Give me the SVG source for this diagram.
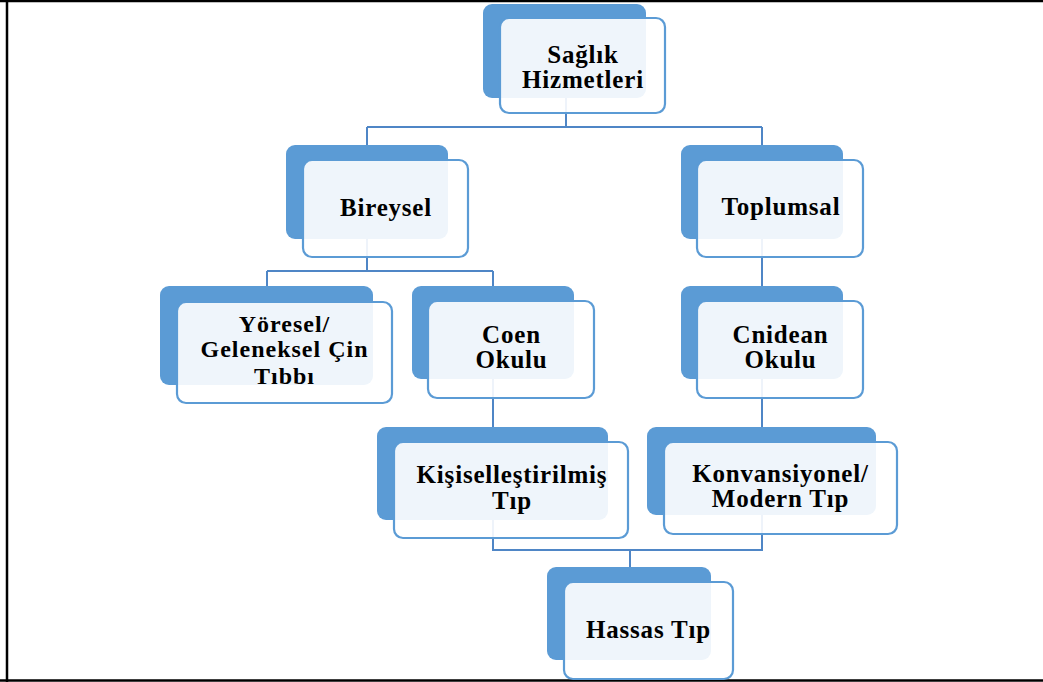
<svg xmlns="http://www.w3.org/2000/svg" width="1043" height="682" viewBox="0 0 1043 682">
<style>
.bg{fill:#ffffff}
.frame{stroke:#000;stroke-width:2.5;fill:none}
.dark{fill:#5B9BD5}
.light{fill:#ffffff;fill-opacity:0.9;stroke:#5B9BD5;stroke-width:2.2}
.conn{fill:none;stroke:#4F86C6;stroke-width:2}
text{font-family:"Liberation Serif","Times New Roman",serif;font-weight:bold;font-size:25px;letter-spacing:0.8px;fill:#000;text-anchor:middle}
.sm{font-size:24px;letter-spacing:1px}
</style>
<rect class="bg" x="0" y="0" width="1043" height="682"/>
<g id="frame">
<line class="frame" x1="0" y1="1" x2="1043" y2="1"/>
<line class="frame" x1="7" y1="0" x2="7" y2="682"/>
<line class="frame" x1="0" y1="680.5" x2="1043" y2="680.5"/>
</g>
<g id="connectors">
<path class="conn" d="M566,65 V127 M367,127 H762 M367,127 V208 M762,127 V208"/>
<path class="conn" d="M367,208 V271 M267,271 H493 M267,271 V350 M493,271 V350"/>
<path class="conn" d="M762,208 V350 M493,350 V490 M762,350 V490"/>
<path class="conn" d="M493,490 V550 H762 V490 M630,550 V630"/>
</g>
<g id="n-saglik">
<rect class="dark" x="483" y="4" width="163" height="94" rx="9"/>
<rect class="light" x="500" y="18" width="165" height="95" rx="9"/>
<text x="583" y="63">Sağlık</text>
<text x="583" y="88">Hizmetleri</text>
</g>
<g id="n-bireysel">
<rect class="dark" x="286" y="145" width="162" height="94" rx="9"/>
<rect class="light" x="303" y="160" width="165" height="97" rx="9"/>
<text x="386" y="216">Bireysel</text>
</g>
<g id="n-toplumsal">
<rect class="dark" x="681" y="145" width="162" height="94" rx="9"/>
<rect class="light" x="697" y="160" width="166" height="97" rx="9"/>
<text x="781" y="215">Toplumsal</text>
</g>
<g id="n-yoresel">
<rect class="dark" x="160" y="286" width="213" height="99" rx="9"/>
<rect class="light" x="177" y="302" width="215" height="101" rx="9"/>
<text class="sm" x="284.5" y="332">Yöresel/</text>
<text class="sm" x="284.5" y="357">Geleneksel Çin</text>
<text class="sm" x="284.5" y="384">Tıbbı</text>
</g>
<g id="n-coen">
<rect class="dark" x="412" y="286" width="162" height="93" rx="9"/>
<rect class="light" x="428" y="301" width="166" height="97" rx="9"/>
<text x="511.5" y="343">Coen</text>
<text x="511.5" y="368">Okulu</text>
</g>
<g id="n-cnidean">
<rect class="dark" x="681" y="286" width="162" height="93" rx="9"/>
<rect class="light" x="697" y="301" width="166" height="97" rx="9"/>
<text x="780.5" y="343">Cnidean</text>
<text x="780.5" y="368">Okulu</text>
</g>
<g id="n-kisisel">
<rect class="dark" x="377" y="427" width="231" height="93" rx="9"/>
<rect class="light" x="394" y="442" width="234" height="96" rx="9"/>
<text x="512" y="483">Kişiselleştirilmiş</text>
<text x="512" y="509">Tıp</text>
</g>
<g id="n-konv">
<rect class="dark" x="647" y="427" width="229" height="88" rx="9"/>
<rect class="light" x="664" y="442" width="233" height="92" rx="9"/>
<text x="780.5" y="482">Konvansiyonel/</text>
<text x="780.5" y="507">Modern Tıp</text>
</g>
<g id="n-hassas">
<rect class="dark" x="547" y="567" width="164" height="93" rx="9"/>
<rect class="light" x="564" y="582" width="169" height="97" rx="9"/>
<text x="648.5" y="638">Hassas Tıp</text>
</g>
</svg>
